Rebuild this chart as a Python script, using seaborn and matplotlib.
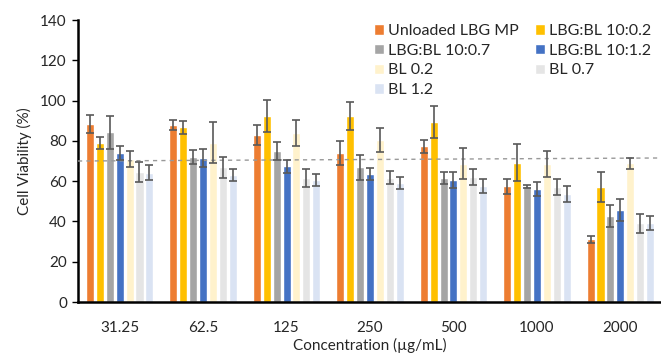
import matplotlib
matplotlib.use("Agg")
import matplotlib.pyplot as plt
import seaborn as sns
import pandas as pd
import numpy as np

concentrations = ["31.25", "62.5", "125", "250", "500", "1000", "2000"]
series = ["Unloaded LBG MP", "LBG:BL 10:0.2", "LBG:BL 10:0.7", "LBG:BL 10:1.2",
          "BL 0.2", "BL 0.7", "BL 1.2"]

unloaded = [88.3, 88.0, 82.9, 73.9, 77.4, 57.4, 31.1]
lbg_bl_02 = [78.8, 86.8, 92.3, 92.3, 89.3, 69.1, 57.0]
lbg_bl_07 = [84.2, 72.0, 75.1, 66.8, 61.4, 57.4, 42.7]
lbg_bl_12 = [73.9, 71.5, 67.3, 63.4, 60.5, 55.9, 45.5]
bl_02 = [70.8, 79.1, 83.9, 80.4, 68.7, 68.7, 68.8]
bl_07 = [64.5, 66.8, 61.7, 61.7, 62.0, 57.0, 39.2]
bl_12 = [64.2, 63.0, 60.4, 59.1, 57.6, 53.8, 39.2]

err_unloaded = [4.6, 2.5, 5.0, 5.9, 3.2, 3.6, 1.9]
err_lbg_bl_02 = [3.0, 3.2, 8.0, 6.8, 7.9, 9.2, 7.6]
err_lbg_bl_07 = [8.0, 3.7, 4.4, 6.4, 2.9, 0.8, 5.4]
err_lbg_bl_12 = [3.4, 4.3, 3.2, 3.0, 4.1, 3.5, 5.5]
err_bl_02 = [4.0, 10.2, 6.3, 6.0, 7.6, 6.4, 2.8]
err_bl_07 = [5.0, 5.1, 4.5, 3.2, 3.9, 3.9, 4.7]
err_bl_12 = [3.7, 2.9, 3.0, 2.8, 3.7, 4.0, 3.6]

threshold_line = [70.0, 71.5]

colors = ["#ED7D31", "#FFC000", "#A5A5A5", "#4472C4", "#FFF2CC", "#E5E5E5", "#DAE3F3"]

values = [unloaded, lbg_bl_02, lbg_bl_07, lbg_bl_12, bl_02, bl_07, bl_12]
errors = [err_unloaded, err_lbg_bl_02, err_lbg_bl_07, err_lbg_bl_12, err_bl_02, err_bl_07, err_bl_12]

rows = []
for s, vals in zip(series, values):
    for c, v in zip(concentrations, vals):
        rows.append({"Concentration": c, "Series": s, "Value": v})
df = pd.DataFrame(rows)

sns.set_theme(style="white")
plt.rcParams["font.family"] = ["Lato", "DejaVu Sans"]

fig = plt.figure(figsize=(6.61, 3.55), dpi=100)
ax = fig.add_axes([78 / 661, 53 / 355, 584 / 661, 282 / 355])

sns.barplot(data=df, x="Concentration", y="Value", hue="Series",
            order=concentrations, hue_order=series, palette=colors,
            width=0.83, gap=0.19, errorbar=None, ax=ax, saturation=1)

bar_containers = list(ax.containers)
handles = [cont.patches[0] for cont in bar_containers]

for cont, errs in zip(bar_containers, errors):
    xs = [p.get_x() + p.get_width() / 2 for p in cont.patches]
    ys = [p.get_height() for p in cont.patches]
    ax.errorbar(xs, ys, yerr=errs, fmt="none", ecolor="#595959",
                elinewidth=1.2, capsize=3, capthick=1.2, zorder=5)

ax.plot([-0.5, 6.5], threshold_line, linestyle=(0, (3, 3)), color="#999999",
        linewidth=1.0, zorder=4)

ax.set_xlim(-0.5, 6.5)
ax.set_ylim(0, 140)
ax.set_yticks(range(0, 141, 20))
ax.set_xlabel("Concentration (µg/mL)", fontsize=11, color="#262626", labelpad=2)
ax.set_ylabel("Cell Viability (%)", fontsize=11, color="#262626", labelpad=6)
ax.tick_params(axis="y", which="both", left=True, length=4, width=1, color="black",
               labelsize=11, labelcolor="#262626", direction="out", pad=4)
ax.tick_params(axis="x", bottom=False, labelsize=11, labelcolor="#262626", pad=8)

for side in ["top", "right"]:
    ax.spines[side].set_visible(False)
for side in ["left", "bottom"]:
    ax.spines[side].set_color("black")
    ax.spines[side].set_linewidth(1.8)

if ax.legend_ is not None:
    ax.legend_.remove()
order = [0, 2, 4, 6, 1, 3, 5]
leg = ax.legend([handles[i] for i in order], [series[i] for i in order], ncol=2,
                loc="upper left", bbox_to_anchor=(374 / 661, 1 - 24 / 355),
                bbox_transform=fig.transFigure, frameon=False, fontsize=11.5,
                handlelength=0.65, handleheight=0.65, handletextpad=0.25,
                columnspacing=1.0, labelspacing=0.36, borderpad=0, borderaxespad=0)
for t in leg.get_texts():
    t.set_color("#262626")

fig.savefig("out.png", dpi=100)
